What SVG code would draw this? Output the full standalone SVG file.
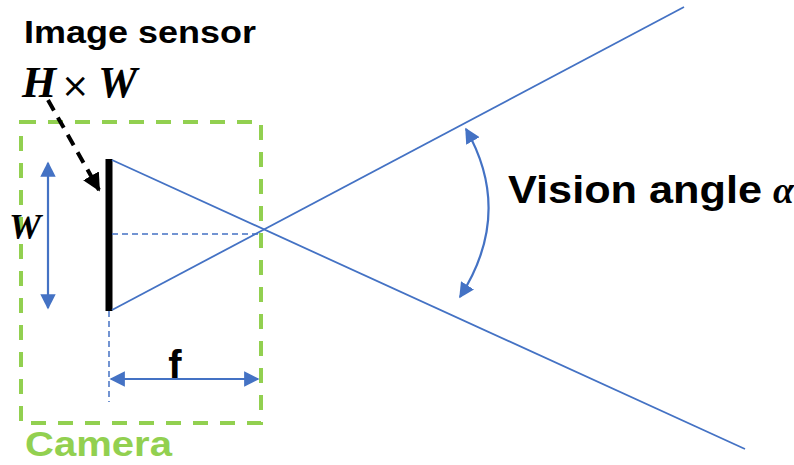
<svg xmlns="http://www.w3.org/2000/svg" width="794" height="465" viewBox="0 0 794 465">
  <defs>
    <marker id="blueHead" viewBox="0 0 10 10" refX="9" refY="5" markerWidth="7" markerHeight="7" orient="auto-start-reverse" markerUnits="strokeWidth">
      <path d="M0,0 L10,5 L0,10 z" fill="#4472C4"/>
    </marker>
    <marker id="blackHead" viewBox="0 0 10 10" refX="9" refY="5" markerWidth="4.5" markerHeight="4.5" orient="auto" markerUnits="strokeWidth">
      <path d="M0,0 L10,5 L0,10 z" fill="#000"/>
    </marker>
  </defs>
  <style>
    .ray { stroke: #4472C4; stroke-width: 1.8; fill: none; }
    .dim { stroke: #4472C4; stroke-width: 2.2; fill: none; }
    .guide { stroke: #4472C4; stroke-width: 1.5; stroke-dasharray: 6 4; fill: none; }
    .sans { font-family: "Liberation Sans", Arial, sans-serif; font-weight: bold; }
    .math { font-family: "Liberation Serif", "Times New Roman", serif; font-weight: bold; font-style: italic; }
  </style>
  <rect width="794" height="465" fill="#fff"/>

  <g id="camera">
    <rect x="21" y="122" width="240" height="301" fill="none" stroke="#92D050" stroke-width="4" stroke-dasharray="15 12"/>
    <text x="25" y="456" class="sans" font-size="35" fill="#92D050" textLength="147" lengthAdjust="spacingAndGlyphs">Camera</text>
  </g>

  <g id="sensor">
    <line x1="109" y1="159" x2="109" y2="311" stroke="#000" stroke-width="7"/>
    <text x="24" y="43" class="sans" font-size="32" fill="#000" textLength="232" lengthAdjust="spacingAndGlyphs">Image sensor</text>
    <text x="22" y="97" class="math" font-size="44" fill="#000">H<tspan x="61" font-style="normal" font-weight="normal" font-family="'DejaVu Sans', sans-serif" font-size="34">×</tspan><tspan x="98">W</tspan></text>
  </g>

  <g id="labels">
    <text x="9" y="239" class="math" font-size="36" fill="#000">W</text>
    <text x="175" y="379" class="sans" font-size="40" fill="#000" text-anchor="middle">f</text>
    <text x="508" y="203" class="sans" font-size="38" fill="#000" textLength="254" lengthAdjust="spacingAndGlyphs">Vision angle</text>
    <text x="773" y="203" font-family="'Liberation Serif', 'DejaVu Serif', serif" font-style="italic" font-weight="bold" font-size="38" fill="#000">α</text>
  </g>

  <g id="connectors">
    <line class="ray" x1="112" y1="310" x2="684" y2="7"/>
    <line class="ray" x1="112" y1="160" x2="745" y2="449"/>
    <line class="guide" x1="112" y1="234" x2="260" y2="234"/>
    <line class="guide" x1="109" y1="311" x2="109" y2="402"/>
    <line class="dim" x1="48" y1="163" x2="48" y2="308" marker-start="url(#blueHead)" marker-end="url(#blueHead)"/>
    <line class="dim" x1="111" y1="379" x2="258" y2="379" marker-start="url(#blueHead)" marker-end="url(#blueHead)"/>
    <path class="dim" d="M466,129 Q514,213 460,297" marker-start="url(#blueHead)" marker-end="url(#blueHead)"/>
    <line x1="48" y1="100" x2="99" y2="190" stroke="#000" stroke-width="4" stroke-dasharray="12 8" marker-end="url(#blackHead)"/>
  </g>
</svg>
